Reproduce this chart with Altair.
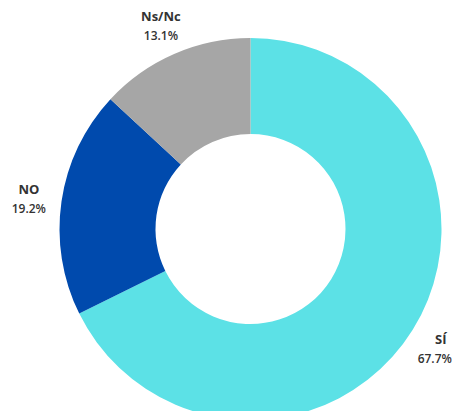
import altair as alt
import pandas as pd

categories = ["SÍ", "NO", "Ns/Nc"]
values = [67.7, 19.2, 13.1]
pct_labels = ["67.7%", "19.2%", "13.1%"]
colors = ["#5CE1E6", "#004AAD", "#A6A6A6"]

df = pd.DataFrame({
    "cat": categories,
    "value": values,
    "pct": pct_labels,
    "order": list(range(len(categories))),
})

cx, cy = 242.5, 221

theta = alt.Theta("value:Q", stack=True)
order = alt.Order("order:Q")
base = alt.Chart(df)

arcs = base.mark_arc(innerRadius=95, outerRadius=191, stroke=None).encode(
    theta=theta,
    order=order,
    color=alt.Color("cat:N", scale=alt.Scale(domain=categories, range=colors), legend=None),
    x=alt.value(cx),
    y=alt.value(cy),
)

lab = base.mark_text(
    font="Open Sans", fontSize=13, fontWeight="bold", color="#333333", dy=-7
).encode(
    theta=theta, order=order, text="cat:N",
    radius=alt.value(224), x=alt.value(cx), y=alt.value(cy),
)

pct_enc = dict(
    theta=theta, order=order, text="pct:N",
    radius=alt.value(224), x=alt.value(cx), y=alt.value(cy),
)

pct_left = base.mark_text(
    font="Open Sans", fontSize=12, fontWeight=600, color="#333333", dy=12
).encode(**pct_enc).encode(
    opacity=alt.condition("datum.order > 0", alt.value(1), alt.value(0))
)

pct_right = base.mark_text(
    font="Open Sans", fontSize=12, fontWeight=600, color="#333333", dy=12, dx=-6
).encode(**pct_enc).encode(
    opacity=alt.condition("datum.order == 0", alt.value(1), alt.value(0))
)

chart = alt.layer(arcs, lab, pct_left, pct_right).properties(
    width=446, height=403, padding=0, autosize="none"
).configure_view(stroke=None)

chart.save("out.html", embed_options={"renderer": "svg", "actions": False})
